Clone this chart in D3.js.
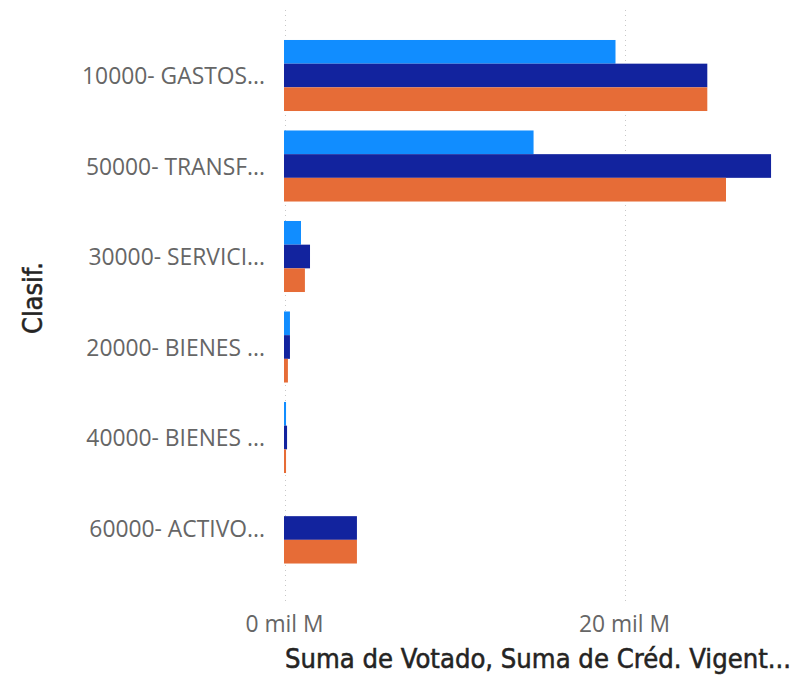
<!DOCTYPE html>
<html>
<head>
<meta charset="utf-8">
<script src="https://cdn.jsdelivr.net/npm/d3@7"></script>
<style>
  html, body { margin: 0; padding: 0; background: #fff; }
  svg { display: block; }
</style>
</head>
<body>
<svg id="chart" width="798" height="676"></svg>
<script>
// ---- data (values in "mil M") ----
const categories = ["10000- GASTOS...", "50000- TRANSF...", "30000- SERVICI...", "20000- BIENES ...", "40000- BIENES ...", "60000- ACTIVO..."];
const seriesNames = ["Suma de Votado", "Suma de Créd. Vigente", "Suma de Devengado"];
const votado      = [19.5, 14.68, 1.0, 0.35, 0.12, 0];
const credVigente = [24.9, 28.65, 1.53, 0.35, 0.18, 4.29];
const devengado   = [24.9, 26.0, 1.23, 0.23, 0.12, 4.29];
const xTicks = [0, 20];
const xTickLabels = ["0 mil M", "20 mil M"];
const colors = ["#118DFF", "#12239E", "#E66C37"];

const seriesValues = [votado, credVigente, devengado];
const svg = d3.select("#chart");

const x = d3.scaleLinear().domain([0, 20]).range([284.5, 624.5]);
const y = d3.scaleBand().domain(categories).range([30.25, 573.25]).paddingInner(0.215).paddingOuter(0.1075);
const ySub = d3.scaleBand().domain(d3.range(seriesNames.length)).range([0, y.bandwidth()]);

const labelFont = "'Open Sans', 'Noto Sans', sans-serif";
const titleFont = "'DejaVu Sans Condensed', 'DejaVu Sans', sans-serif";

function fitSize(text, family, targetWidth, base) {
  const t = svg.append("text").attr("font-family", family).attr("font-size", base).text(text);
  const w = t.node().getComputedTextLength();
  t.remove();
  return base * targetWidth / w;
}
const labelSize = fitSize("10000- GASTOS...", labelFont, 183, 20);
const titleSize = 26;

// gridlines (dotted)
svg.append("g").selectAll("line").data(xTicks).join("line")
  .attr("x1", d => Math.round(x(d)) + 0.5).attr("x2", d => Math.round(x(d)) + 0.5)
  .attr("y1", 10).attr("y2", 603)
  .attr("stroke", "#c8c8c8").attr("stroke-width", 1).attr("stroke-dasharray", "1,4");

// bars
const groups = svg.append("g").selectAll("g").data(categories).join("g")
  .attr("transform", d => `translate(0,${y(d)})`);
groups.selectAll("rect")
  .data((c, i) => seriesValues.map((vals, s) => ({ s, v: vals[i] })))
  .join("rect")
  .attr("x", x(0) - 0.5)
  .attr("y", d => ySub(d.s))
  .attr("width", d => Math.max(0, x(d.v) - x(0)))
  .attr("height", ySub.bandwidth())
  .attr("fill", d => colors[d.s]);

// y axis labels
svg.append("g").selectAll("text").data(categories).join("text")
  .attr("x", 265).attr("y", d => y(d) + y.bandwidth() / 2)
  .attr("text-anchor", "end").attr("dominant-baseline", "central")
  .attr("font-family", labelFont).attr("font-size", labelSize)
  .attr("fill", "#666666")
  .text(d => d);

// x tick labels
svg.append("g").selectAll("text").data(xTicks).join("text")
  .attr("x", d => x(d)).attr("y", 632)
  .attr("text-anchor", "middle")
  .attr("font-family", labelFont).attr("font-size", labelSize)
  .attr("fill", "#666666")
  .text((d, i) => xTickLabels[i]);

// axis titles
svg.append("text")
  .attr("x", 285).attr("y", 668)
  .attr("font-family", titleFont).attr("font-size", titleSize)
  .attr("textLength", 506).attr("lengthAdjust", "spacingAndGlyphs")
  .attr("fill", "#252423").attr("stroke", "#252423").attr("stroke-width", 0.5)
  .text("Suma de Votado, Suma de Créd. Vigent...");

svg.append("text")
  .attr("transform", "translate(42,298) rotate(-90)")
  .attr("text-anchor", "middle")
  .attr("font-family", titleFont).attr("font-size", titleSize)
  .attr("textLength", 72).attr("lengthAdjust", "spacingAndGlyphs")
  .attr("fill", "#252423").attr("stroke", "#252423").attr("stroke-width", 0.5)
  .text("Clasif.");
</script>
</body>
</html>
